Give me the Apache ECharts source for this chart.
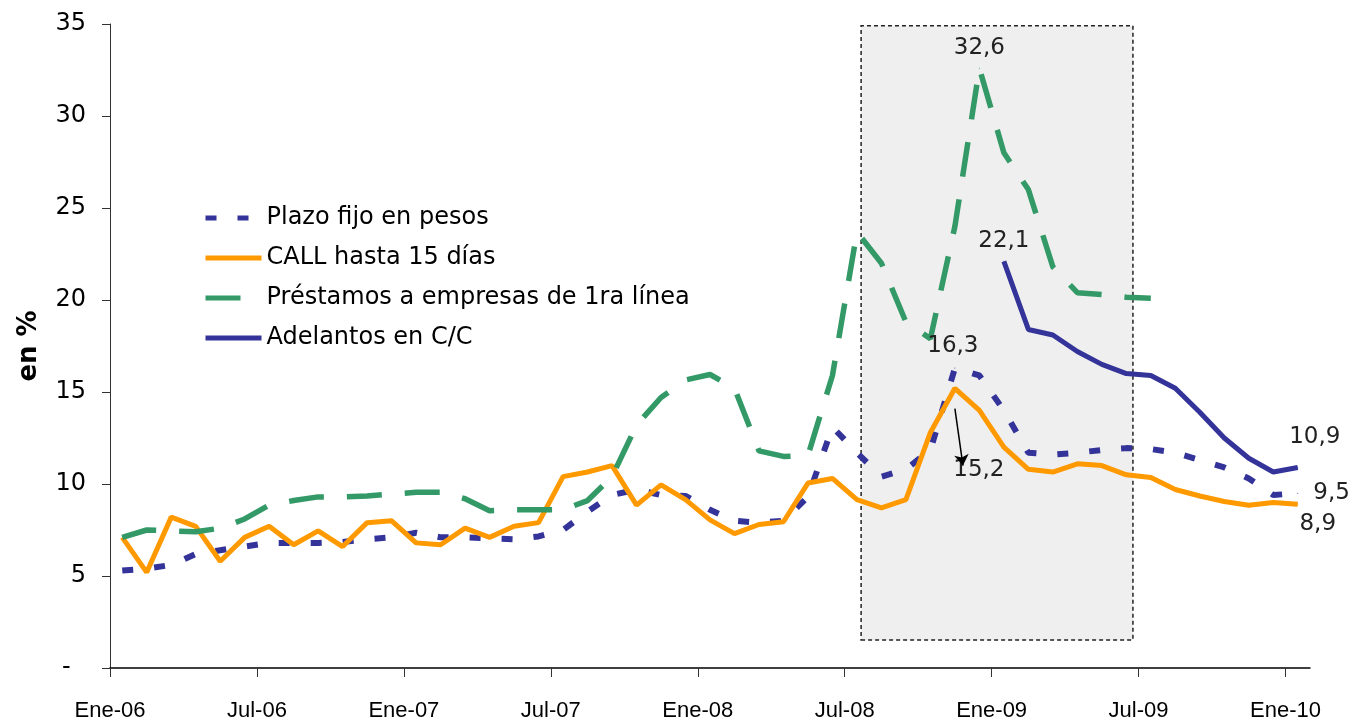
<!DOCTYPE html>
<html>
<head>
<meta charset="utf-8">
<script src="https://cdn.jsdelivr.net/npm/echarts@6/dist/echarts.min.js"></script>
<style>
  html, body { margin: 0; padding: 0; background: #fff; }
  #main { width: 1353px; height: 726px; }
</style>
</head>
<body>
<div id="main"></div>
<script>
// meses Ene-06 .. Ene-10 (49 puntos mensuales)
const tickLabels = ['Ene-06', 'Jul-06', 'Ene-07', 'Jul-07', 'Ene-08', 'Jul-08', 'Ene-09', 'Jul-09', 'Ene-10'];

// Plazo fijo en pesos
const plazoFijo = [5.3, 5.4, 5.6, 6.2, 6.4, 6.6, 6.8, 6.8, 6.8, 6.85, 7.0, 7.1, 7.35, 7.1, 7.1, 7.05, 7.0, 7.15,
  7.5, 8.5, 9.4, 9.7, 9.4, 9.35, 8.6, 8.0, 7.9, 8.0, 9.3, 13.1, 11.7, 10.4, 10.8, 11.85, 16.3, 15.9, 14.0,
  11.7, 11.6, 11.7, 11.85, 11.95, 11.9, 11.7, 11.3, 10.9, 10.3, 9.4, 9.5];

// CALL hasta 15 dias
const call15 = [7.1, 5.2, 8.2, 7.7, 5.8, 7.1, 7.7, 6.7, 7.45, 6.6, 7.9, 8.0, 6.8, 6.7, 7.6, 7.1, 7.7, 7.9,
  10.4, 10.65, 11.0, 8.85, 9.95, 9.15, 8.05, 7.3, 7.8, 7.95, 10.05, 10.3, 9.15, 8.7, 9.15, 12.8, 15.2, 14.0, 12.0,
  10.8, 10.65, 11.1, 11.0, 10.5, 10.35, 9.7, 9.35, 9.05, 8.85, 9.0, 8.9];

// Prestamos a empresas de 1ra linea (termina en Jul-09)
const prestamos = [7.1, 7.5, 7.45, 7.4, 7.6, 8.1, 8.85, 9.1, 9.3, 9.3, 9.35, 9.45, 9.55, 9.55, 9.2, 8.55, 8.6, 8.6,
  8.6, 9.1, 10.4, 13.2, 14.7, 15.65, 15.95, 15.2, 11.8, 11.5, 11.55, 15.9, 23.7, 22.0, 18.8, 17.9, 24.0, 32.6, 28.0,
  26.0, 21.8, 20.4, 20.3, 20.15, 20.1];

// Adelantos en C/C (empieza en Ene-09)
const adelantos = [null, null, null, null, null, null, null, null, null, null, null, null, null, null, null, null, null, null,
  null, null, null, null, null, null, null, null, null, null, null, null, null, null, null, null, null, null, 22.1,
  18.4, 18.1, 17.2, 16.5, 16.0, 15.9, 15.2, 13.9, 12.5, 11.4, 10.65, 10.9];

// recuadro gris (crisis)
const boxX = [30.67, 41.77];
const boxY = [1.52, 34.9];

const FONT = 'Liberation Sans, Arial, sans-serif';
const WIDE = 'DejaVu Sans, sans-serif';
const fmt = v => v.toFixed(1).replace('.', ',');

// etiquetas puntuales: indice -> estilo de etiqueta
function buildData(values, labels) {
  const out = [];
  values.forEach((v, i) => {
    if (v === null) return;
    const item = { value: [i + 0.5, v], symbolSize: 0 };
    if (labels && labels[i]) {
      item.symbolSize = 1;
      item.label = Object.assign({
        show: true, fontSize: 23, color: '#222', fontFamily: WIDE,
        formatter: p => fmt(p.value[1])
      }, labels[i]);
    }
    out.push(item);
  });
  return out;
}

const chart = echarts.init(document.getElementById('main'), null, { renderer: 'canvas' });

const option = {
  backgroundColor: '#fff',
  animation: false,
  textStyle: { fontFamily: WIDE },
  grid: { left: 110, right: 43, top: 24, bottom: 58 },
  legend: {
    orient: 'vertical',
    left: 198,
    top: 201,
    itemWidth: 56,
    itemHeight: 24,
    itemGap: 16,
    itemStyle: { opacity: 0 },
    lineStyle: { width: 5 },
    textStyle: { fontSize: 24, color: '#000', fontFamily: WIDE },
    data: ['Plazo fijo en pesos', 'CALL hasta 15 días', 'Préstamos a empresas de 1ra línea', 'Adelantos en C/C']
  },
  xAxis: {
    type: 'value',
    min: 0,
    max: 49,
    splitLine: { show: false },
    axisLine: { show: true, lineStyle: { color: '#000', width: 1.5 } },
    axisTick: { show: true, inside: false, length: 9, lineStyle: { color: '#333' }, customValues: [0, 6, 12, 18, 24, 30, 36, 42, 48] },
    axisLabel: {
      fontSize: 22, color: '#000', margin: 32, fontFamily: FONT,
      customValues: [0, 6, 12, 18, 24, 30, 36, 42, 48],
      formatter: v => tickLabels[Math.round(v / 6)] || ''
    }
  },
  yAxis: {
    type: 'value',
    min: 0,
    max: 35,
    interval: 5,
    name: 'en %',
    nameLocation: 'middle',
    nameGap: 68,
    nameRotate: 90,
    nameTextStyle: { fontSize: 26, fontWeight: 'bold', color: '#000', fontFamily: WIDE },
    splitLine: { show: false },
    axisLine: { show: true, lineStyle: { color: '#333', width: 1 } },
    axisTick: { show: true, inside: false, length: 8, lineStyle: { color: '#333' } },
    axisLabel: {
      fontSize: 24, color: '#000', margin: 24, fontFamily: WIDE,
      formatter: v => v === 0 ? '-  ' : String(v)
    }
  },
  series: [
    {
      name: 'Plazo fijo en pesos',
      type: 'line',
      symbol: 'circle',
      color: '#333399',
      lineStyle: { width: 6, type: [11, 21], color: '#333399' },
      data: buildData(plazoFijo, {
        34: { position: 'top', distance: 10, offset: [-2, 0] },
        48: { position: 'right', distance: 15 }
      }),
      markArea: {
        silent: true,
        itemStyle: { color: '#efefef', borderColor: '#222', borderWidth: 1.5, borderType: [4, 3] },
        data: [[{ coord: [boxX[0], boxY[0]] }, { coord: [boxX[1], boxY[1]] }]]
      }
    },
    {
      name: 'CALL hasta 15 días',
      type: 'line',
      symbol: 'circle',
      color: '#FF9900',
      lineStyle: { width: 5, color: '#FF9900' },
      data: buildData(call15, {
        34: { position: 'bottom', distance: 70, offset: [24, 0] },
        48: { position: 'bottom', distance: 8, offset: [20, 0] }
      }),
      markLine: {
        silent: true,
        symbol: ['none', 'arrow'],
        symbolSize: 11,
        label: { show: false },
        lineStyle: { color: '#000', width: 1.5, type: 'solid' },
        data: [[{ coord: [34.5, 14.1] }, { coord: [34.83, 11.0] }]]
      }
    },
    {
      name: 'Préstamos a empresas de 1ra línea',
      type: 'line',
      symbol: 'circle',
      color: '#339966',
      lineStyle: { width: 5.5, type: [35, 23], color: '#339966' },
      data: buildData(prestamos, {
        35: { position: 'top', distance: 8 }
      })
    },
    {
      name: 'Adelantos en C/C',
      type: 'line',
      symbol: 'circle',
      color: '#333399',
      lineStyle: { width: 5, color: '#333399' },
      data: buildData(adelantos, {
        36: { position: 'top', distance: 8 },
        48: { position: 'top', distance: 18, offset: [17, 0] }
      })
    }
  ]
};

chart.setOption(option);
</script>
</body>
</html>
